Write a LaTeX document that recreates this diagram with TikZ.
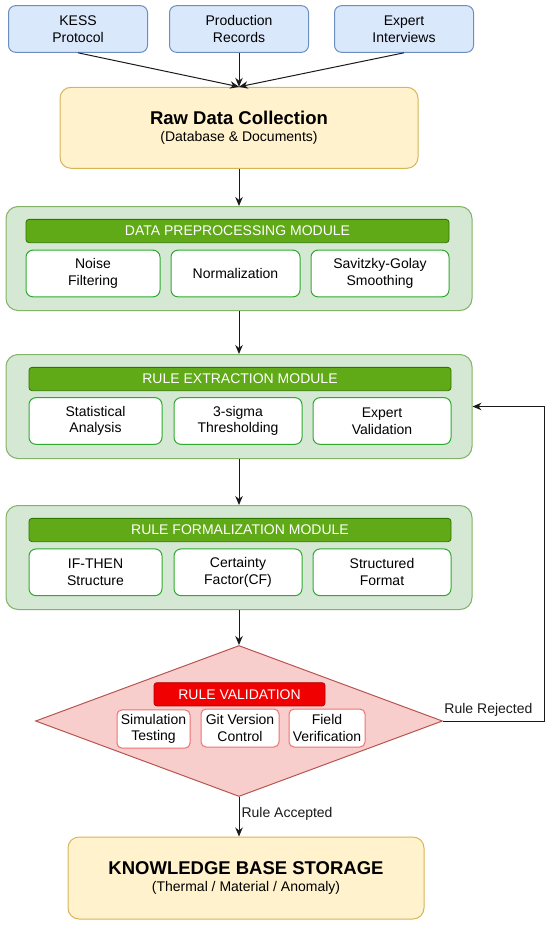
\documentclass[tikz,border=0pt]{standalone}
\usepackage{fontspec}
\setmainfont{Liberation Sans}
\usetikzlibrary{shapes.geometric,arrows.meta}
\definecolor{srcfill}{HTML}{DAE8FC}
\definecolor{srcline}{HTML}{6C8EBF}
\definecolor{storefill}{HTML}{FFF2CC}
\definecolor{storeline}{HTML}{D6B656}
\definecolor{modfill}{HTML}{D5E8D4}
\definecolor{modline}{HTML}{82B366}
\definecolor{headfill}{HTML}{60A917}
\definecolor{headline}{HTML}{2D7600}
\definecolor{taskline}{HTML}{2EAA2E}
\definecolor{checkfill}{HTML}{F8CECC}
\definecolor{checkline}{HTML}{B85450}
\definecolor{alertfill}{HTML}{F00000}
\definecolor{alertline}{HTML}{B20000}
\definecolor{testline}{HTML}{F07070}
\definecolor{flowink}{HTML}{1A1A1A}
\newcommand{\flowbody}{\fontsize{14}{16.7}\selectfont}
\newcommand{\flowtitle}{\fontsize{18.5}{16.7}\selectfont\bfseries}
\tikzset{
  src box/.style={draw=srcline, fill=srcfill, rounded corners=7pt,
    line width=1pt, minimum width=139pt, minimum height=46.6pt,
    align=center, inner sep=2pt, font=\flowbody},
  store box/.style={draw=storeline, fill=storefill, rounded corners=11pt,
    line width=1pt, align=center, inner sep=2pt, font=\flowbody},
  module box/.style={draw=modline, fill=modfill, rounded corners=12pt,
    line width=1pt, minimum width=466pt, minimum height=104pt},
  module head/.style={draw=headline, fill=headfill, text=white,
    rounded corners=3pt, line width=0.8pt, minimum height=23.3pt,
    inner sep=0pt, font=\flowbody},
  task box/.style={draw=taskline, fill=white, rounded corners=7pt,
    line width=1pt, minimum height=46.7pt, align=center, inner sep=2pt,
    font=\flowbody},
  check shape/.style={diamond, draw=checkline, fill=checkfill,
    line width=1pt, minimum width=407pt, minimum height=151pt,
    inner sep=0pt},
  alert head/.style={draw=alertline, fill=alertfill, text=white,
    rounded corners=3pt, line width=0.8pt, minimum width=171pt,
    minimum height=23.3pt, inner sep=0pt, font=\flowbody},
  test box/.style={draw=testline, fill=white, rounded corners=5pt,
    line width=1pt, minimum height=38.3pt, align=center, inner sep=1pt,
    font=\flowbody},
  flow/.style={draw=flowink, line width=1pt,
    -{Stealth[length=9pt, width=7.5pt]}},
  flow label/.style={font=\flowbody, text=flowink, inner sep=2pt},
}

\begin{document}
\begin{tikzpicture}[x=1pt, y=-1pt]
  \useasboundingbox (0,0) rectangle (550,926);

  \node[src box] (kess) at (78,29) {KESS\\Protocol};
  \node[src box] (records) at (239,29) {Production\\Records};
  \node[src box] (interviews) at (404,29) {Expert\\Interviews};

  \node[store box, minimum width=358pt, minimum height=81pt] (raw)
    at (239,127.8) {{\flowtitle Raw Data Collection}\\(Database \& Documents)};

  \node[module box] (prep) at (239,258.5) {};
  \node[module head, minimum width=423pt] (prephead) at (237.5,231)
    {DATA PREPROCESSING MODULE};
  \node[task box, minimum width=134pt] (noise) at (93,273.5) {Noise\\Filtering};
  \node[task box, minimum width=129pt] (norm) at (235.5,273.5) {Normalization};
  \node[task box, minimum width=138pt] (savgol) at (380,273.5)
    {Savitzky-Golay\\Smoothing};

  \node[module box] (extr) at (239,406.5) {};
  \node[module head, minimum width=422pt] (extrhead) at (240,379)
    {RULE EXTRACTION MODULE};
  \node[task box, minimum width=133pt] (stats) at (95.5,421) {Statistical\\Analysis};
  \node[task box, minimum width=128pt] (sigma) at (238,421) {3-sigma\\Thresholding};
  \node[task box, minimum width=138pt] (expval) at (382,421) {Expert\\Validation};

  \node[module box] (form) at (239,557.5) {};
  \node[module head, minimum width=422pt] (formhead) at (240,530)
    {RULE FORMALIZATION MODULE};
  \node[task box, minimum width=133pt] (ifthen) at (95.5,572.3) {IF-THEN\\Structure};
  \node[task box, minimum width=128pt] (cf) at (238,572.3) {Certainty\\Factor(CF)};
  \node[task box, minimum width=138pt] (format) at (382,572.3) {Structured\\Format};

  \node[check shape] (valid) at (239,721) {};
  \node[alert head] (validhead) at (239.5,694.3) {RULE VALIDATION};
  \node[test box, minimum width=73pt] (sim) at (153.5,729) {Simulation\\Testing};
  \node[test box, minimum width=78pt, minimum height=38pt] (git) at (240,728)
    {Git Version\\Control};
  \node[test box, minimum width=76pt, minimum height=38pt] (field) at (327,728)
    {Field\\Verification};

  \node[store box, minimum width=356pt, minimum height=82pt] (kb)
    at (246,878) {{\flowtitle KNOWLEDGE BASE STORAGE}\\(Thermal / Material / Anomaly)};

  \coordinate (loop) at (544,721);

  \draw[flow] (kess.south) -- (raw.north);
  \draw[flow] (records.south) -- (raw.north);
  \draw[flow] (interviews.south) -- (raw.north);
  \draw[flow] (raw) -- (prep);
  \draw[flow] (prep) -- (extr);
  \draw[flow] (extr) -- (form);
  \draw[flow] (form) -- (valid);
  \draw[flow] (valid.south) -- node[flow label, right, yshift=3pt] {Rule Accepted}
    (valid.south |- kb.north);
  \draw[flow] (valid.east) -- node[flow label, above=2.5pt, pos=0.45] {Rule Rejected}
    (loop) |- (extr.east);
\end{tikzpicture}
\end{document}
